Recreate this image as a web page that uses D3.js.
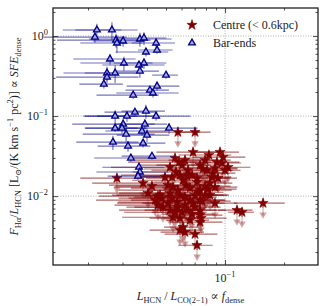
<!DOCTYPE html>
<html>
<head>
<meta charset="utf-8">
<script src="https://cdn.jsdelivr.net/npm/d3@7"></script>
<style>
  body { margin: 0; background: #fff; }
  text { font-family: "Liberation Serif", "DejaVu Serif", serif; }
</style>
</head>
<body>
<div id="svgRoot"></div>
<script>
// Bar-ends (blue triangles)
const barX = [
  0.0222, 0.0265, 0.0217, 0.0278, 0.0281, 0.0302, 0.0368, 0.0386, 0.0445, 0.0395,
  0.0450, 0.0259, 0.0305, 0.0364, 0.0386, 0.0368, 0.0250, 0.0275, 0.0250, 0.0241,
  0.0500, 0.0450, 0.0414, 0.0429, 0.0340, 0.0275, 0.0316, 0.0347, 0.0395, 0.0445,
  0.0302, 0.0275, 0.0298, 0.0313, 0.0390, 0.0377, 0.0400, 0.0518, 0.0268, 0.0320,
  0.0382, 0.0331, 0.0424, 0.0364, 0.0368, 0.0360
];
const barY = [
  1.19, 1.19, 0.97, 0.89, 0.818, 0.866, 0.917, 0.944, 0.818, 0.631,
  0.668, 0.516, 0.46, 0.434, 0.46, 0.365, 0.345, 0.345, 0.307, 0.251,
  0.325, 0.237, 0.211, 0.194, 0.183, 0.100, 0.100, 0.112, 0.1155, 0.100,
  0.0794, 0.0708, 0.0708, 0.0596, 0.0794, 0.065, 0.0579, 0.0708, 0.0473, 0.0422,
  0.046, 0.0299, 0.0316, 0.023, 0.020, 0.0178
];
// relative errors
const barXErr = [
  0.33, 0.35, 0.45, 0.5, 0.35, 0.3, 0.45, 0.3, 0.25, 0.3,
  0.2, 0.35, 0.4, 0.35, 0.3, 0.25, 0.4, 0.3, 0.45, 0.25,
  0.15, 0.3, 0.25, 0.35, 0.35, 0.3, 0.4, 0.3, 0.25, 0.5,
  0.45, 0.3, 0.35, 0.4, 0.3, 0.35, 0.3, 0.4, 0.35, 0.3,
  0.3, 0.35, 0.3, 0.35, 0.4, 0.3
];
const barYErr = [
  0.2, 0.25, 0.15, 0.2, 0.25, 0.15, 0.2, 0.18, 0.15, 0.12,
  0.1, 0.15, 0.2, 0.12, 0.15, 0.18, 0.2, 0.25, 0.15, 0.12,
  0.1, 0.12, 0.1, 0.12, 0.1, 0.18, 0.15, 0.1, 0.2, 0.12,
  0.15, 0.1, 0.15, 0.2, 0.15, 0.12, 0.18, 0.15, 0.2, 0.15,
  0.12, 0.1, 0.1, 0.15, 0.12, 0.1
];

// Centre (< 0.6kpc) (red stars)
const centreX = [
  0.0281, 0.0382, 0.0424, 0.0405, 0.0455, 0.0477, 0.0494, 0.0537, 0.0543, 0.0524,
  0.0537, 0.0575, 0.0703, 0.0687, 0.0828, 0.0943, 0.0977, 0.0966, 0.1036, 0.0582,
  0.0604, 0.0910, 0.0772, 0.0810, 0.0869, 0.0921, 0.0720, 0.0720, 0.0838, 0.0663,
  0.0791, 0.0889, 0.0819, 0.0746, 0.0589, 0.0728, 0.0625, 0.0663, 0.0746, 0.0763,
  0.0889, 0.0687, 0.0569, 0.0466, 0.0483, 0.0556, 0.0604, 0.0648, 0.0746, 0.0543,
  0.0589, 0.0663, 0.0755, 0.0746, 0.0611, 0.0589, 0.0625, 0.0703, 0.0720, 0.1151,
  0.1221, 0.1563, 0.0746, 0.0556, 0.0625, 0.0524, 0.0648, 0.0562, 0.0679, 0.0611,
  0.0512, 0.0632, 0.0575, 0.0703, 0.0512, 0.0625, 0.0703, 0.0791, 0.0838, 0.0575,
  0.0679, 0.0524, 0.0455, 0.0440, 0.0859, 0.1000, 0.0889, 0.0791, 0.0746, 0.0640,
  0.0589
];
const centreY = [
  0.0168, 0.01454, 0.01334, 0.0109, 0.0100, 0.00944, 0.01728, 0.01728, 0.01296, 0.0109,
  0.00944, 0.0631, 0.0631, 0.0355, 0.0326, 0.0355, 0.0307, 0.0259, 0.0230, 0.0266,
  0.0244, 0.0266, 0.0218, 0.0211, 0.0194, 0.0168, 0.0168, 0.0150, 0.01454, 0.0126,
  0.01334, 0.01296, 0.01224, 0.01189, 0.0103, 0.0112, 0.00972, 0.00891, 0.00891, 0.00866,
  0.00818, 0.00818, 0.00841, 0.0103, 0.00729, 0.0063, 0.0063, 0.00668, 0.00668, 0.00546,
  0.00531, 0.00501, 0.00531, 0.00473, 0.0041, 0.00376, 0.00355, 0.00335, 0.00244, 0.00668,
  0.0063, 0.00818, 0.00579, 0.0299, 0.0282, 0.0230, 0.0211, 0.0200, 0.0183, 0.0158,
  0.01372, 0.01372, 0.01189, 0.0103, 0.00818, 0.00772, 0.00729, 0.0103, 0.0103, 0.00729,
  0.00596, 0.00668, 0.00772, 0.00891, 0.01728, 0.0211, 0.0224, 0.0282, 0.0244, 0.0178,
  0.0183
];
const centreXErr = [
  0.35, 0.45, 0.35, 0.45, 0.5, 0.4, 0.3, 0.35, 0.5, 0.45,
  0.4, 0.3, 0.2, 0.35, 0.3, 0.25, 0.3, 0.25, 0.3, 0.45,
  0.4, 0.3, 0.5, 0.35, 0.3, 0.25, 0.45, 0.4, 0.3, 0.5,
  0.35, 0.3, 0.4, 0.45, 0.55, 0.35, 0.45, 0.5, 0.35, 0.4,
  0.3, 0.45, 0.5, 0.4, 0.35, 0.45, 0.3, 0.4, 0.35, 0.45,
  0.3, 0.25, 0.35, 0.3, 0.2, 0.3, 0.25, 0.3, 0.2, 0.2,
  0.15, 0.29, 0.3, 0.4, 0.45, 0.5, 0.35, 0.4, 0.3, 0.45,
  0.5, 0.35, 0.5, 0.4, 0.45, 0.3, 0.35, 0.3, 0.25, 0.4,
  0.3, 0.45, 0.4, 0.5, 0.25, 0.2, 0.3, 0.35, 0.4, 0.45,
  0.5
];
const centreYErr = 0.12;
// 1 = upper limit arrow drawn below the star
const centreUplim = [
  1, 1, 1, 1, 1, 1, 1, 0, 1, 1,
  1, 1, 1, 1, 0, 0, 0, 1, 1, 1,
  0, 1, 1, 1, 0, 1, 0, 1, 1, 1,
  1, 0, 1, 1, 1, 0, 1, 1, 1, 0,
  1, 1, 1, 1, 1, 1, 1, 1, 0, 1,
  1, 1, 1, 0, 1, 1, 1, 1, 1, 1,
  1, 1, 1, 1, 1, 0, 1, 0, 1, 1,
  1, 0, 1, 1, 1, 1, 0, 1, 1, 1,
  1, 1, 1, 1, 0, 1, 1, 1, 0, 1,
  0
];

const xMajor = [0.1];
const xMinor = [0.02, 0.03, 0.04, 0.05, 0.06, 0.07, 0.08, 0.09, 0.2];
const yMajor = [0.01, 0.1, 1];
const yMinor = [0.002, 0.003, 0.004, 0.005, 0.006, 0.007, 0.008, 0.009,
  0.02, 0.03, 0.04, 0.05, 0.06, 0.07, 0.08, 0.09,
  0.2, 0.3, 0.4, 0.5, 0.6, 0.7, 0.8, 0.9, 2];

const barData = barX.map((v, i) => ({ x: v, y: barY[i], ex: barXErr[i], ey: barYErr[i] }));
const centreData = centreX.map((v, i) => ({ x: v, y: centreY[i], ex: centreXErr[i], ey: centreYErr, ul: centreUplim[i] }));

var margin = { top: 8, right: 8, bottom: 41, left: 53 },
  width = 326 - margin.left - margin.right,
  height = 306 - margin.top - margin.bottom;

var svg = d3.select("#svgRoot")
  .append("svg")
  .attr("width", 326)
  .attr("height", 306)
  .append("g")
  .attr("transform", "translate(" + margin.left + "," + margin.top + ")");

var x = d3.scaleLog().domain([0.01326, 0.298]).range([0, width]);
var y = d3.scaleLog().domain([0.00138, 2.24]).range([height, 0]);

// write text with sub/superscripts into a <text>
function mathText(sel, parts, size) {
  let shift = 0;
  parts.forEach(p => {
    const target = p.pos === "sub" ? size * 0.28 : p.pos === "sup" ? -size * 0.42 : 0;
    sel.append("tspan")
      .attr("dy", target - shift)
      .attr("font-size", p.pos ? size * 0.7 : size)
      .attr("font-style", p.i ? "italic" : "normal")
      .text(p.t);
    shift = target;
  });
}

// grid
svg.selectAll(".gy").data(yMajor).enter().append("line")
  .attr("x1", 0).attr("x2", width)
  .attr("y1", d => y(d)).attr("y2", d => y(d))
  .attr("stroke", "#999").attr("stroke-width", 0.8).attr("stroke-dasharray", "1,1.5");
svg.selectAll(".gx").data(xMajor).enter().append("line")
  .attr("y1", 0).attr("y2", height)
  .attr("x1", d => x(d)).attr("x2", d => x(d))
  .attr("stroke", "#999").attr("stroke-width", 0.8).attr("stroke-dasharray", "1,1.5");

// --- centre points ---
var red = "#800000";
var starSym = d3.symbol(d3.symbolStar).size(32);
var gRed = svg.append("g");
// upper limit arrows
var ulData = centreData.filter(d => d.ul);
gRed.selectAll(".ul").data(ulData).enter().append("line")
  .attr("x1", d => x(d.x)).attr("x2", d => x(d.x))
  .attr("y1", d => y(d.y)).attr("y2", d => y(d.y * 0.7))
  .attr("stroke", red).attr("stroke-opacity", 0.35).attr("stroke-width", 1.1);
gRed.selectAll(".ulh").data(ulData).enter().append("path")
  .attr("d", d3.symbol(d3.symbolTriangle).size(24))
  .attr("transform", d => "translate(" + x(d.x) + "," + (y(d.y * 0.7) - 1) + ") rotate(180)")
  .attr("fill", red).attr("fill-opacity", 0.35);
// error bars
gRed.selectAll(".ex").data(centreData).enter().append("line")
  .attr("x1", d => x(d.x * (1 - d.ex))).attr("x2", d => x(d.x * (1 + d.ex)))
  .attr("y1", d => y(d.y)).attr("y2", d => y(d.y))
  .attr("stroke", red).attr("stroke-opacity", 0.6).attr("stroke-width", 1.1);
gRed.selectAll(".ey").data(centreData).enter().append("line")
  .attr("x1", d => x(d.x)).attr("x2", d => x(d.x))
  .attr("y1", d => y(d.y * (1 - d.ey))).attr("y2", d => y(d.y * (1 + d.ey)))
  .attr("stroke", red).attr("stroke-opacity", 0.8).attr("stroke-width", 1.1);
gRed.selectAll(".star").data(centreData).enter().append("path")
  .attr("d", starSym)
  .attr("transform", d => "translate(" + x(d.x) + "," + y(d.y) + ")")
  .attr("fill", red).attr("stroke", red).attr("stroke-width", 0.6);

// --- bar-end points ---
var blue = "#00008b";
var triSym = d3.symbol(d3.symbolTriangle).size(20);
var gBlue = svg.append("g");
gBlue.selectAll(".ex").data(barData).enter().append("line")
  .attr("x1", d => x(d.x * (1 - d.ex))).attr("x2", d => x(d.x * (1 + d.ex)))
  .attr("y1", d => y(d.y)).attr("y2", d => y(d.y))
  .attr("stroke", blue).attr("stroke-opacity", 0.55).attr("stroke-width", 1.1);
gBlue.selectAll(".ey").data(barData).enter().append("line")
  .attr("x1", d => x(d.x)).attr("x2", d => x(d.x))
  .attr("y1", d => y(d.y * (1 - d.ey))).attr("y2", d => y(d.y * (1 + d.ey)))
  .attr("stroke", blue).attr("stroke-opacity", 0.6).attr("stroke-width", 1.1);
gBlue.selectAll(".tri").data(barData).enter().append("path")
  .attr("d", triSym)
  .attr("transform", d => "translate(" + x(d.x) + "," + y(d.y) + ")")
  .attr("fill", "#a8a8e0").attr("stroke", blue).attr("stroke-width", 1.3);

// --- axes, inward ticks on all four sides ---
function styleAxis(g) {
  g.select(".domain").remove();
  g.selectAll("line").attr("stroke", "#222").attr("stroke-width", 0.8);
}
svg.append("g").attr("transform", "translate(0," + height + ")")
  .call(d3.axisBottom(x).tickValues(xMajor).tickSize(-5).tickPadding(5).tickFormat(""))
  .call(styleAxis);
svg.append("g").attr("transform", "translate(0," + height + ")")
  .call(d3.axisBottom(x).tickValues(xMinor).tickSize(-2.5).tickFormat(""))
  .call(styleAxis);
svg.append("g")
  .call(d3.axisTop(x).tickValues(xMajor).tickSize(-5).tickFormat(""))
  .call(styleAxis);
svg.append("g")
  .call(d3.axisTop(x).tickValues(xMinor).tickSize(-2.5).tickFormat(""))
  .call(styleAxis);
svg.append("g")
  .call(d3.axisLeft(y).tickValues(yMajor).tickSize(-5).tickFormat(""))
  .call(styleAxis);
svg.append("g")
  .call(d3.axisLeft(y).tickValues(yMinor).tickSize(-2.5).tickFormat(""))
  .call(styleAxis);
svg.append("g").attr("transform", "translate(" + width + ",0)")
  .call(d3.axisRight(y).tickValues(yMajor).tickSize(-5).tickFormat(""))
  .call(styleAxis);
svg.append("g").attr("transform", "translate(" + width + ",0)")
  .call(d3.axisRight(y).tickValues(yMinor).tickSize(-2.5).tickFormat(""))
  .call(styleAxis);

// tick labels 10^n
svg.selectAll(".ylab").data(yMajor).enter().append("text")
  .attr("x", -5).attr("y", d => y(d) + 4)
  .attr("text-anchor", "end").attr("fill", "#222")
  .each(function (d) {
    mathText(d3.select(this), [{ t: "10" }, { t: d === 1 ? "0" : "\u2212" + Math.round(-Math.log10(d)), pos: "sup" }], 12);
  });
svg.selectAll(".xlab").data(xMajor).enter().append("text")
  .attr("x", d => x(d)).attr("y", height + 17)
  .attr("text-anchor", "middle").attr("fill", "#222")
  .each(function (d) {
    mathText(d3.select(this), [{ t: "10" }, { t: "\u2212" + Math.round(-Math.log10(d)), pos: "sup" }], 12);
  });

// frame
svg.append("rect").attr("width", width).attr("height", height)
  .attr("fill", "none").attr("stroke", "#222").attr("stroke-width", 1.3);

// axis labels
var xl = svg.append("text")
  .attr("x", width / 2 + 5).attr("y", height + 35)
  .attr("text-anchor", "middle").attr("fill", "#222");
mathText(xl, [
  { t: "L", i: true }, { t: "HCN", pos: "sub" }, { t: " / " },
  { t: "L", i: true }, { t: "CO(2\u22121)", pos: "sub" }, { t: " \u221D " },
  { t: "f", i: true }, { t: "dense", pos: "sub" }
], 12);

var yl = svg.append("text")
  .attr("transform", "translate(" + (-35) + "," + (height / 2) + ") rotate(-90)")
  .attr("text-anchor", "middle").attr("fill", "#222");
mathText(yl, [
  { t: "F", i: true }, { t: "H\u03B1", pos: "sub" }, { t: "/" },
  { t: "L", i: true }, { t: "HCN", pos: "sub" }, { t: " [L" }, { t: "\u2299", pos: "sub" },
  { t: "/(K km s" }, { t: "\u22121", pos: "sup" }, { t: " pc" }, { t: "2", pos: "sup" },
  { t: ")] \u221D " }, { t: "SFE", i: true }, { t: "dense", pos: "sub" }
], 12);

// legend
var legend = svg.append("g");
legend.append("path")
  .attr("d", starSym)
  .attr("transform", "translate(" + (192 - margin.left) + "," + (25 - margin.top) + ")")
  .attr("fill", red).attr("stroke", red).attr("stroke-width", 0.6);
legend.append("text").attr("x", 213 - margin.left).attr("y", 29 - margin.top)
  .attr("font-size", 12).attr("fill", "#222").text("Centre (< 0.6kpc)");
legend.append("path")
  .attr("d", triSym)
  .attr("transform", "translate(" + (192 - margin.left) + "," + (43 - margin.top) + ")")
  .attr("fill", "#a8a8e0").attr("stroke", blue).attr("stroke-width", 1.3);
legend.append("text").attr("x", 213 - margin.left).attr("y", 47 - margin.top)
  .attr("font-size", 12).attr("fill", "#222").text("Bar-ends");
</script>
</body>
</html>
